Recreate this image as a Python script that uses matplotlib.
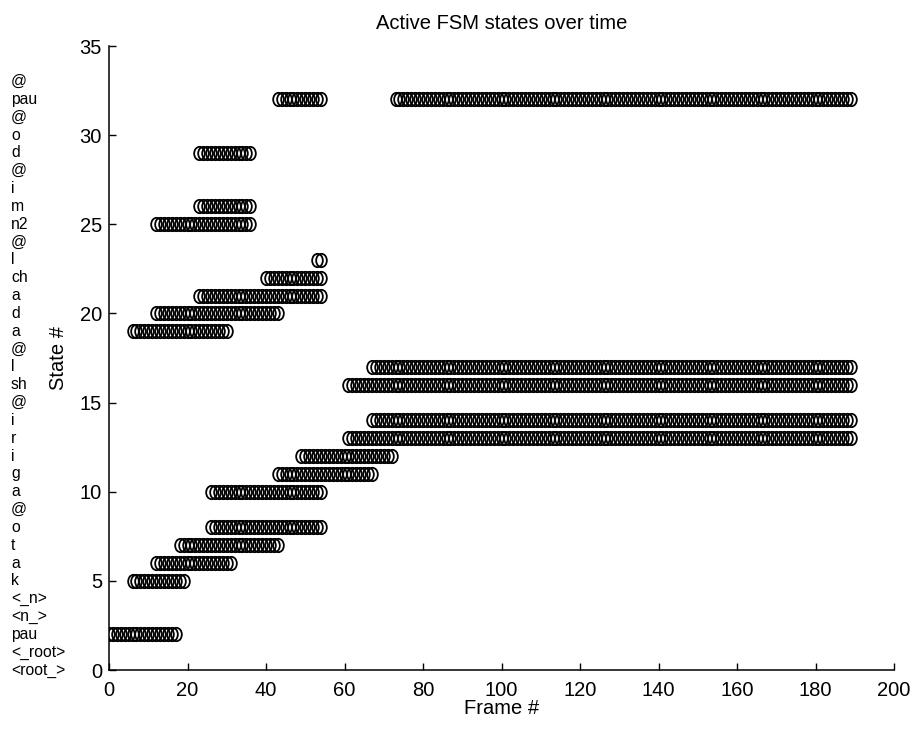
import numpy as np
import matplotlib
matplotlib.use("Agg")
import matplotlib.pyplot as plt
from matplotlib.path import Path
from matplotlib.transforms import Affine2D, blended_transform_factory

plt.rcParams['font.family'] = ['Liberation Sans', 'DejaVu Sans']

# State names, indexed by state number (0 at the bottom)
state_names = ["<root_>", "<_root>", "pau", "<n_>", "<_n>", "k", "a", "t", "o", "@",
               "a", "g", "i", "r", "i", "@", "sh", "l", "@", "a",
               "d", "a", "ch", "l", "@", "n2", "m", "i", "@", "d",
               "o", "@", "pau", "@"]

# Active states: (state number, first frame, last frame), inclusive
state_ids    = [2, 5, 6, 7, 8, 10, 11, 12, 13, 14, 16, 17, 19, 20, 21, 22, 23, 25, 26, 29, 32, 32]
first_frames = [0, 6, 12, 18, 26, 26, 43, 49, 61, 67, 61, 67, 6, 12, 23, 40, 53, 12, 23, 23, 43, 73]
last_frames  = [17, 19, 31, 43, 54, 54, 67, 72, 189, 189, 189, 189, 30, 43, 54, 54, 54, 36, 36, 36, 54, 189]

x_ticks = list(range(0, 201, 20))
y_ticks = list(range(0, 36, 5))

fig = plt.figure(figsize=(9.16, 7.31), dpi=100)
ax = fig.add_axes([109/916, 1 - 670/731, 785/916, 624/731])

frames = []
states = []
for s, a, b in zip(state_ids, first_frames, last_frames):
    f = np.arange(a, b + 1)
    frames.append(f)
    states.append(np.full(f.shape, s))
frames = np.concatenate(frames)
states = np.concatenate(states)

# slightly tall open circle, as printed
oval = Path.unit_circle().transformed(Affine2D().scale(0.8, 1.0))

ax.plot(frames, states, linestyle='none', marker=oval, markersize=9.6,
        markerfacecolor='none', markeredgecolor='black', markeredgewidth=1.3)

ax.set_xlim(0, 200)
ax.set_ylim(0, 35)
ax.set_xticks(x_ticks)
ax.set_yticks(y_ticks)
ax.tick_params(direction='in', length=5, width=1, labelsize=14.5, colors='black')
ax.tick_params(axis='x', pad=8)
ax.tick_params(axis='y', pad=5)
for side in ('top', 'right'):
    ax.spines[side].set_visible(False)
for side in ('left', 'bottom'):
    ax.spines[side].set_linewidth(1.1)

ax.set_title("Active FSM states over time", fontsize=14.5, pad=12.5)
ax.set_xlabel("Frame #", fontsize=14.5)
ax.xaxis.set_label_coords(0.5, -0.046)
ax.set_ylabel("State #", fontsize=14.5)
ax.yaxis.set_label_coords(-0.052, 0.5)

# State names down the left edge, one per state number
trans = blended_transform_factory(fig.transFigure, ax.transData)
for i, name in enumerate(state_names):
    ax.text(11/916, i, name, transform=trans, ha='left', va='center',
            fontsize=11.3, clip_on=False)

fig.savefig("out.png", dpi=100)
